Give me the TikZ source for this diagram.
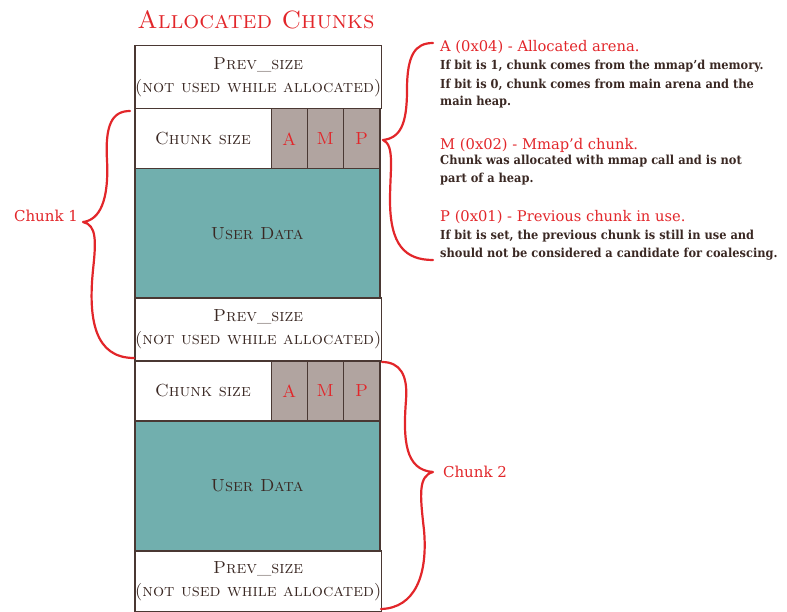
\documentclass[tikz,border=0pt]{standalone}
\usepackage{fontspec}
\newfontfamily\notefont{DejaVu Serif}
\newfontfamily\bodyfont{DejaVu Serif}[FakeStretch=0.92]
\definecolor{brd}{HTML}{4A3833}
\definecolor{teal}{HTML}{71AFAE}
\definecolor{flag}{HTML}{B1A4A0}
\definecolor{hred}{HTML}{E2262A}
\definecolor{txt}{HTML}{3A2823}
\tikzset{
  cell/.style={draw=brd, line width=1.5pt, anchor=north west, inner sep=0pt, align=center,
    text=txt, font=\fontsize{17.5}{23}\selectfont\scshape},
  flagcell/.style={cell, fill=flag, text=hred, minimum height=60pt},
  datacell/.style={cell, fill=teal, minimum width=245pt},
  brace/.style={draw=hred, line width=2.2pt, line cap=round, line join=round},
  lbl/.style={text=hred, font=\notefont\fontsize{15}{15}\selectfont, inner sep=0pt},
  head/.style={text=hred, font=\notefont\fontsize{14.7}{15}\selectfont, anchor=base west, inner sep=0pt},
  body/.style={text=txt, font=\bodyfont\bfseries\fontsize{12.4}{13}\selectfont, anchor=base west, inner sep=0pt}
}
\begin{document}
\begin{tikzpicture}[x=1pt,y=-1pt]
\useasboundingbox (0,0) rectangle (787,612);
\node[text=hred, font=\fontsize{25}{25}\selectfont\scshape, inner sep=0pt] (title) at (256,20) {Allocated Chunks};
% chunk 1
\node[cell, minimum width=245pt, minimum height=63pt] (prev1) at (134,45) {Prev\_size\\(not used while allocated)};
\node[cell, minimum width=136.5pt, minimum height=60pt] (cs1) at (134,108) {Chunk size};
\node[flagcell, minimum width=36pt] (a1) at (270.5,108) {A};
\node[flagcell, minimum width=36pt] (m1) at (306.5,108) {M};
\node[flagcell, minimum width=36.5pt] (p1) at (342.5,108) {P};
\node[datacell, minimum height=129.5pt] (ud1) at (134,168) {User Data};
\node[cell, minimum width=245pt, minimum height=62.5pt] (prev2) at (134,297.5) {Prev\_size\\(not used while allocated)};
% chunk 2
\node[cell, minimum width=136.5pt, minimum height=60pt] (cs2) at (134,360) {Chunk size};
\node[flagcell, minimum width=36pt] (a2) at (270.5,360) {A};
\node[flagcell, minimum width=36pt] (m2) at (306.5,360) {M};
\node[flagcell, minimum width=36.5pt] (p2) at (342.5,360) {P};
\node[datacell, minimum height=130pt] (ud2) at (134,420) {User Data};
\node[cell, minimum width=245pt, minimum height=60.5pt] (prev3) at (134,550) {Prev\_size\\(not used while allocated)};
% braces
\draw[brace] (130,111) .. controls (112,111) and (105,125) .. (107,160)
  .. controls (109,200) and (100,220) .. (83,222)
  .. controls (97,225) and (96,242) .. (93,270)
  .. controls (88,320) and (95,358) .. (134,358);
\node[lbl] (chunk1) at (46,216) {Chunk 1};
\draw[brace] (382,362) .. controls (400,362) and (408,375) .. (406,400)
  .. controls (403,440) and (405,470) .. (433,472)
  .. controls (418,476) and (420,495) .. (424,530)
  .. controls (428,575) and (415,608) .. (381,609);
\node[lbl] (chunk2) at (475,472) {Chunk 2};
\draw[brace] (433,43) .. controls (415,43) and (407,55) .. (407,90)
  .. controls (407,125) and (400,138) .. (383,140)
  .. controls (395,145) and (390,170) .. (390,200)
  .. controls (390,245) and (405,260) .. (433,260);
% notes
\node[head] (ha) at (440,52) {A (0x04) - Allocated arena.};
\node[body] (ta1) at (440,70) {If bit is 1, chunk comes from the mmap’d memory.};
\node[body] (ta2) at (440,89) {If bit is 0, chunk comes from main arena and the};
\node[body] (ta3) at (440,106) {main heap.};
\node[head] (hm) at (440,150) {M (0x02) - Mmap’d chunk.};
\node[body] (tm1) at (440,165) {Chunk was allocated with mmap call and is not};
\node[body] (tm2) at (440,183) {part of a heap.};
\node[head] (hp) at (440,222) {P (0x01) - Previous chunk in use.};
\node[body] (tp1) at (440,240) {If bit is set, the previous chunk is still in use and};
\node[body] (tp2) at (440,258) {should not be considered a candidate for coalescing.};
\end{tikzpicture}
\end{document}
